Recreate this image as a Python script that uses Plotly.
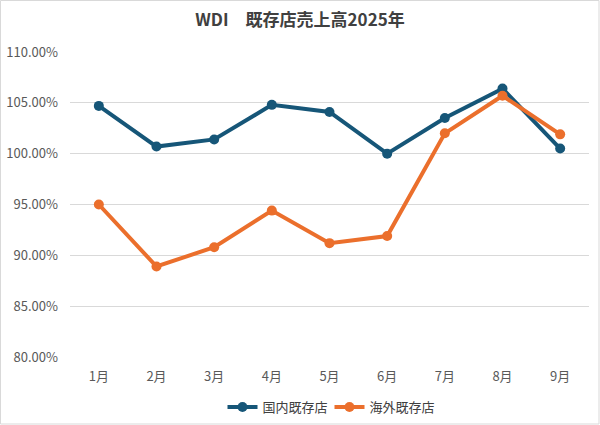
import plotly.graph_objects as go

months = ["1月", "2月", "3月", "4月", "5月", "6月", "7月", "8月", "9月"]
domestic = [104.7, 100.7, 101.4, 104.8, 104.1, 100.0, 103.5, 106.4, 100.5]
overseas = [95.0, 88.9, 90.8, 94.4, 91.2, 91.9, 102.0, 105.7, 101.9]
yticks = [80, 85, 90, 95, 100, 105, 110]
ytick_text = [f"{v:.2f}%" for v in yticks]

blue = "#165678"
orange = "#EB6F2C"
font_family = "Noto Sans CJK JP, Liberation Sans, sans-serif"

fig = go.Figure()
fig.add_trace(go.Scatter(
    x=months, y=domestic, name="国内既存店", mode="lines+markers",
    line=dict(color=blue, width=4), marker=dict(color=blue, size=10)))
fig.add_trace(go.Scatter(
    x=months, y=overseas, name="海外既存店", mode="lines+markers",
    line=dict(color=orange, width=4), marker=dict(color=orange, size=10)))

fig.update_layout(
    width=600, height=425,
    paper_bgcolor="white", plot_bgcolor="white",
    margin=dict(l=70, r=11, t=52, b=68, autoexpand=False),
    font=dict(family=font_family, color="#595959", size=13),
    title=dict(text="<b>WDI　既存店売上高2025年</b>", x=0.5, xanchor="center",
               y=1 - 20 / 425, yref="container", yanchor="middle",
               font=dict(size=17, color="#404040", family=font_family)),
    showlegend=True,
    legend=dict(orientation="h", x=0.5, xanchor="center", y=-50 / 305, yanchor="middle",
                font=dict(size=13, color="#404040"), itemwidth=30,
                entrywidth=62, entrywidthmode="pixels"),
    xaxis=dict(type="category", range=[-0.5, 8.5], showgrid=False, showline=False,
               ticks="", ticklabelstandoff=10,
               tickfont=dict(size=13, color="#595959"), fixedrange=True),
    yaxis=dict(range=[80, 110], tickvals=yticks, ticktext=ytick_text, showgrid=True,
               gridcolor="#d9d9d9", gridwidth=1, zeroline=False, showline=False,
               ticks="", ticklabelstandoff=11,
               tickfont=dict(size=13, color="#595959"), fixedrange=True),
    shapes=[dict(type="rect", xref="paper", yref="paper", x0=-69.5/519, x1=1+10/519,
                 y0=-67/305, y1=1+51.5/305, line=dict(color="#d9d9d9", width=1))],
)

fig.write_html("out.html", config={"displayModeBar": False},
               post_script="document.body.style.margin='0';")
